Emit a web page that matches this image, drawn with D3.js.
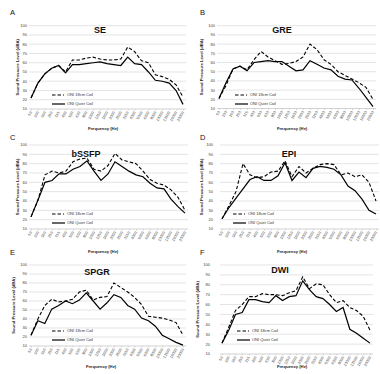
<!DOCTYPE html>
<html>
<head>
<meta charset="utf-8">
<script src="https://cdn.jsdelivr.net/npm/d3@7/dist/d3.min.js"></script>
<style>
  html, body { margin: 0; padding: 0; background: #fff; }
  svg { display: block; font-family: "Liberation Sans", Arial, sans-serif; }
</style>
</head>
<body>
<script>
// frequency bands (Hz)
const freqLabels = ['50', '100', '160', '250', '315', '400', '500', '630', '800', '1000', '1250', '1600',
  '2000', '2500', '3150', '4000', '5000', '6300', '8000', '10000', '12500', '16000', '20000'];
const yTicks = [10, 20, 30, 40, 50, 60, 70, 80, 90, 100];
const seriesNames = ['ONI 18cm Coil', 'ONI Quiet Coil'];

// dBA values, 18cm coil (dashed) and quiet coil (solid)
const seStd = [22, 38, 48, 54, 57, 50, 63, 63, 65, 66, 64, 63, 63, 64, 77, 72, 62, 60, 47, 45, 42, 36, 23];
const seQuiet = [22, 38, 48, 54, 57, 49, 58, 58, 59, 60, 61, 59, 58, 57, 66, 59, 58, 50, 41, 40, 38, 30, 15];
const greStd = [21, 35, 53, 56, 52, 63, 72, 66, 62, 58, 59, 61, 66, 80, 74, 63, 58, 50, 46, 42, 38, 33, 20];
const greQuiet = [21, 38, 53, 56, 51, 60, 61, 62, 61, 61, 56, 51, 52, 62, 58, 54, 52, 45, 42, 41, 32, 22, 12];
const bssfpStd = [23, 41, 68, 72, 70, 72, 82, 85, 86, 74, 72, 78, 91, 84, 82, 80, 72, 63, 59, 57, 52, 44, 30];
const bssfpQuiet = [23, 41, 60, 62, 69, 69, 74, 77, 83, 72, 62, 69, 82, 77, 72, 68, 66, 59, 54, 53, 42, 34, 27];
const epiStd = [21, 35, 50, 80, 68, 65, 66, 71, 72, 83, 66, 77, 70, 75, 79, 80, 79, 68, 70, 66, 68, 60, 40];
const epiQuiet = [21, 33, 43, 53, 63, 66, 62, 62, 67, 81, 62, 71, 65, 75, 77, 76, 74, 68, 56, 51, 42, 30, 26];
const spgrStd = [22, 40, 55, 62, 59, 60, 62, 70, 72, 61, 64, 65, 80, 75, 70, 64, 56, 43, 42, 41, 39, 36, 22];
const spgrQuiet = [22, 38, 35, 51, 55, 60, 57, 61, 69, 60, 51, 58, 67, 64, 55, 51, 41, 38, 32, 22, 18, 14, 11];
const dwiStd = [21, 37, 54, 60, 68, 68, 71, 70, 70, 69, 72, 74, 88, 76, 81, 80, 70, 62, 64, 57, 54, 48, 34];
const dwiQuiet = [21, 34, 50, 52, 65, 65, 63, 62, 69, 64, 68, 69, 84, 75, 68, 66, 60, 53, 57, 35, 31, 26, 21];

// panel placement (layout only)
const panels = [
  { letter: 'A', title: 'SE', std: seStd, quiet: seQuiet, lx: 10, ly: 15,
    x0: 31, x1: 183, yTop: 25.7, yBot: 109, tx: 100, ty: 33, axX: 19, lblX: 27, legX: 52, legY: 95, fx: 103, fy: 130 },
  { letter: 'B', title: 'GRE', std: greStd, quiet: greQuiet, lx: 200, ly: 15,
    x0: 219, x1: 373, yTop: 25.7, yBot: 108.5, tx: 282, ty: 33, axX: 203, lblX: 215, legX: 235, legY: 95, fx: 292, fy: 130 },
  { letter: 'C', title: 'bSSFP', std: bssfpStd, quiet: bssfpQuiet, lx: 10, ly: 140,
    x0: 31, x1: 185, yTop: 145, yBot: 229, tx: 86, ty: 157, axX: 19, lblX: 27, legX: 52, legY: 214, fx: 103, fy: 253 },
  { letter: 'D', title: 'EPI', std: epiStd, quiet: epiQuiet, lx: 200, ly: 140,
    x0: 222, x1: 376, yTop: 145, yBot: 229, tx: 289, ty: 157, axX: 203, lblX: 213, legX: 233, legY: 214, fx: 292, fy: 253 },
  { letter: 'E', title: 'SPGR', std: spgrStd, quiet: spgrQuiet, lx: 10, ly: 255,
    x0: 31, x1: 183, yTop: 265, yBot: 346, tx: 97, ty: 275, axX: 15, lblX: 27, legX: 52, legY: 331, fx: 101, fy: 368 },
  { letter: 'F', title: 'DWI', std: dwiStd, quiet: dwiQuiet, lx: 200, ly: 255,
    x0: 222, x1: 370, yTop: 265, yBot: 354, tx: 280, ty: 273, axX: 199, lblX: 210, legX: 237, legY: 331, fx: 292, fy: 368 }
];

const svg = d3.select('body').append('svg')
  .attr('width', 380)
  .attr('height', 374);

panels.forEach(p => {
  const g = svg.append('g');

  const x = d3.scalePoint()
    .domain(freqLabels)
    .range([p.x0, p.x1]);

  const y = d3.scaleLinear()
    .domain([10, 100])
    .range([p.yBot, p.yTop]);

  // gridlines
  g.selectAll('line.grid')
    .data(yTicks.slice(1))
    .enter().append('line')
    .attr('x1', p.x0 - 2)
    .attr('x2', p.x1 + 3)
    .attr('y1', d => y(d))
    .attr('y2', d => y(d))
    .attr('stroke', '#d9d9d9')
    .attr('stroke-width', 0.7);

  // y axis labels
  g.selectAll('text.ytick')
    .data(yTicks)
    .enter().append('text')
    .attr('x', p.lblX)
    .attr('y', d => y(d) + 1.4)
    .attr('text-anchor', 'end')
    .attr('font-size', 4)
    .attr('fill', '#404040')
    .text(d => d);

  // x axis
  const xAxis = d3.axisBottom(x).tickSize(1.5).tickSizeOuter(0).tickFormat('');
  const ax = g.append('g')
    .attr('transform', `translate(0, ${p.yBot})`)
    .call(xAxis);
  ax.select('.domain')
    .attr('d', `M${p.x0 - 2},0H${p.x1 + 3}`)
    .attr('stroke', '#bfbfbf')
    .attr('stroke-width', 0.7);
  ax.selectAll('.tick line').attr('stroke', '#bfbfbf').attr('stroke-width', 0.6);

  g.selectAll('text.xtick')
    .data(freqLabels)
    .enter().append('text')
    .attr('transform', d => `translate(${x(d) + 1.2}, ${p.yBot + 3.5}) rotate(-60)`)
    .attr('text-anchor', 'end')
    .attr('font-size', 3.8)
    .attr('fill', '#404040')
    .text(d => d);

  // axis titles
  g.append('text')
    .attr('transform', `translate(${p.axX}, ${(p.yTop + p.yBot) / 2}) rotate(-90)`)
    .attr('text-anchor', 'middle')
    .attr('font-size', 4.2)
    .attr('font-weight', 'bold')
    .attr('fill', '#222')
    .text('Sound Pressure Level (dBA)');

  g.append('text')
    .attr('x', p.fx)
    .attr('y', p.fy)
    .attr('text-anchor', 'middle')
    .attr('font-size', 4.2)
    .attr('font-weight', 'bold')
    .attr('fill', '#222')
    .text('Frequency (Hz)');

  // panel letter and title
  g.append('text')
    .attr('x', p.lx)
    .attr('y', p.ly)
    .attr('font-size', 7.5)
    .attr('fill', '#111')
    .text(p.letter);

  g.append('text')
    .attr('x', p.tx)
    .attr('y', p.ty)
    .attr('text-anchor', 'middle')
    .attr('font-size', 9)
    .attr('font-weight', 'bold')
    .attr('fill', '#111')
    .text(p.title);

  // series lines
  const line = d3.line()
    .x((d, i) => x(freqLabels[i]))
    .y(d => y(d));

  g.append('path')
    .datum(p.std)
    .attr('d', line)
    .attr('fill', 'none')
    .attr('stroke', '#000')
    .attr('stroke-width', 1.1)
    .attr('stroke-dasharray', '3.5,2');

  g.append('path')
    .datum(p.quiet)
    .attr('d', line)
    .attr('fill', 'none')
    .attr('stroke', '#000')
    .attr('stroke-width', 1.2);

  // legend
  const leg = g.append('g');
  leg.append('line')
    .attr('x1', p.legX).attr('x2', p.legX + 12)
    .attr('y1', p.legY).attr('y2', p.legY)
    .attr('stroke', '#000').attr('stroke-width', 1.1)
    .attr('stroke-dasharray', '3.5,2');
  leg.append('line')
    .attr('x1', p.legX).attr('x2', p.legX + 13)
    .attr('y1', p.legY + 9).attr('y2', p.legY + 9)
    .attr('stroke', '#000').attr('stroke-width', 1.2);
  leg.selectAll('text')
    .data(seriesNames)
    .enter().append('text')
    .attr('x', p.legX + 15)
    .attr('y', (d, i) => p.legY + 1.4 + i * 9)
    .attr('font-size', 4)
    .attr('fill', '#333')
    .text(d => d);
});
</script>
</body>
</html>
